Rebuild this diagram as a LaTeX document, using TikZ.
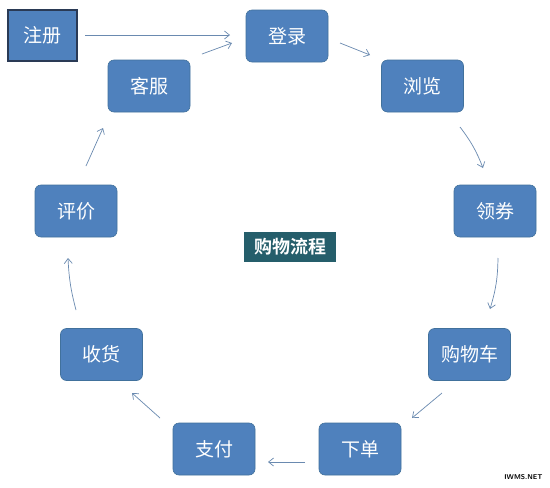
\documentclass[tikz,border=0pt]{standalone}
\usepackage{fontspec}
\newfontfamily\cjk{Noto Sans CJK SC}
\newfontfamily\cjkb{Noto Sans CJK SC Bold}
\usetikzlibrary{arrows.meta}
\definecolor{boxblue}{HTML}{4F81BD}
\definecolor{boxedge}{HTML}{41719C}
\definecolor{arr}{HTML}{6A8AB0}
\definecolor{teal}{HTML}{255E6B}
\definecolor{regedge}{HTML}{2A3A55}
\begin{document}
\begin{tikzpicture}[x=1pt,y=-1pt,
  stepbox/.style={draw=boxedge,fill=boxblue,rounded corners=6pt,minimum width=82pt,minimum height=52pt,text=white,font=\cjk\fontsize{19}{21}\selectfont,line width=0.6pt},
  startbox/.style={stepbox,rounded corners=0pt,draw=regedge,line width=1.2pt,minimum width=69pt,minimum height=51pt},
  link/.style={draw=arr,line width=0.7pt,-{Straight Barb[length=5pt,width=8pt]}}]
\useasboundingbox (0,0) rectangle (550,488);
\fill[white] (0,0) rectangle (550,488);
\node[startbox] (reg) at (42.5,35.5) {注册};
\node[stepbox] (login) at (287,36) {登录};
\node[stepbox] (browse) at (422.5,86) {浏览};
\node[stepbox] (coupon) at (495,211) {领券};
\node[stepbox] (cart) at (469.5,354.5) {购物车};
\node[stepbox] (order) at (360,449) {下单};
\node[stepbox] (pay) at (214,449) {支付};
\node[stepbox] (recv) at (101.5,354.5) {收货};
\node[stepbox] (review) at (76,211) {评价};
\node[stepbox] (service) at (149,86) {客服};
\node[fill=teal,text=white,font=\cjkb\fontsize{18}{20}\selectfont,minimum width=92pt,minimum height=30pt,inner sep=1pt] (title) at (290,247) {购物流程};
\node[font=\sffamily\bfseries\fontsize{7}{8}\selectfont,anchor=east] (wm) at (546,477) {IWMS.NET};
\coordinate (a1) at (85,35); \coordinate (a2) at (230,35);
\draw[link] (a1) -- (a2);
\coordinate (b1) at (202,54); \coordinate (b2) at (232,43);
\draw[link] (b1) -- (b2);
\coordinate (c1) at (340,43); \coordinate (c2) at (370,55);
\draw[link] (c1) -- (c2);
\coordinate (d1) at (460,127); \coordinate (d2) at (483,168);
\draw[link] (d1) to[bend left=8] (d2);
\coordinate (e1) at (498,258); \coordinate (e2) at (490,309);
\draw[link] (e1) to[bend left=8] (e2);
\coordinate (f1) at (442,393); \coordinate (f2) at (412,418);
\draw[link] (f1) -- (f2);
\coordinate (g1) at (305,462); \coordinate (g2) at (268,462);
\draw[link] (g1) -- (g2);
\coordinate (h1) at (160,418); \coordinate (h2) at (132,393);
\draw[link] (h1) -- (h2);
\coordinate (i1) at (76,310); \coordinate (i2) at (68,258);
\draw[link] (i1) to[bend left=6] (i2);
\coordinate (j1) at (86,166); \coordinate (j2) at (103,128);
\draw[link] (j1) -- (j2);
\end{tikzpicture}
\end{document}
